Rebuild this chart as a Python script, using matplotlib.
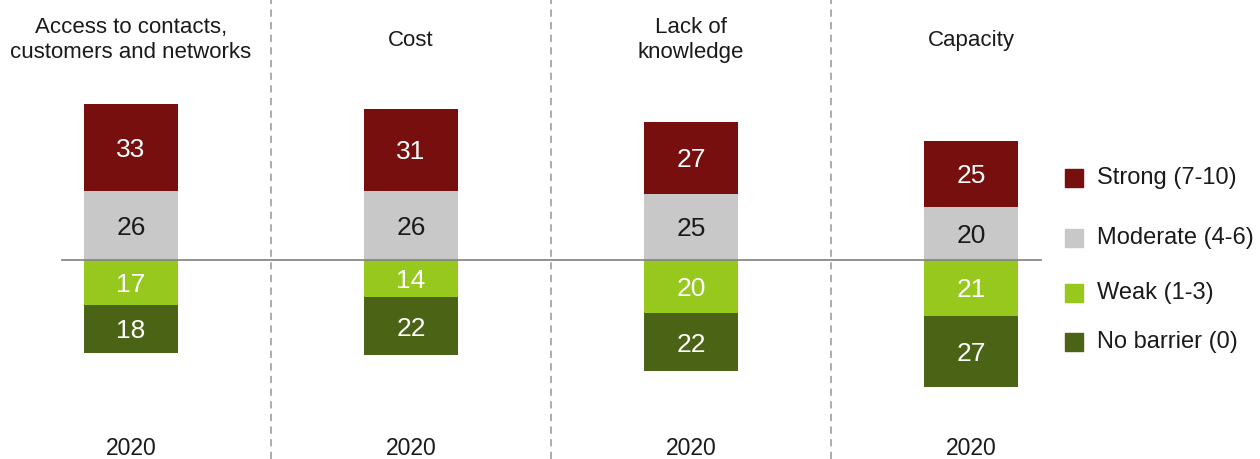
import matplotlib
matplotlib.use("Agg")
import matplotlib.pyplot as plt
from matplotlib.patches import Rectangle

plt.rcParams['font.family'] = ['Liberation Sans', 'DejaVu Sans']

categories = ["Access to contacts,\ncustomers and networks", "Cost",
              "Lack of\nknowledge", "Capacity"]
years = ["2020", "2020", "2020", "2020"]
strong = [33, 31, 27, 25]
moderate = [26, 26, 25, 20]
weak = [17, 14, 20, 21]
no_barrier = [18, 22, 22, 27]

legend_labels = ["Strong (7-10)", "Moderate (4-6)", "Weak (1-3)", "No barrier (0)"]
c_strong = "#760F0E"
c_moderate = "#C8C8C8"
c_weak = "#97C81E"
c_none = "#4A6314"

fig = plt.figure(figsize=(12.6, 4.59), dpi=100)
ax = fig.add_axes([0, 0, 1, 1])
ax.set_xlim(-0.468, 4.032)
ax.set_ylim(-75.1, 98.1)
ax.axis("off")

x = list(range(len(categories)))
w = 0.336

# positive side: moderate sits on the baseline, strong on top of it
ax.bar(x, moderate, w, bottom=0, color=c_moderate)
ax.bar(x, strong, w, bottom=moderate, color=c_strong)
# negative side: weak under the baseline, no barrier below that
ax.bar(x, [-v for v in weak], w, bottom=0, color=c_weak)
ax.bar(x, [-v for v in no_barrier], w, bottom=[-v for v in weak], color=c_none)

fs_val = 19
cap_shift = -0.716 * fs_val / 2  # centre the digit caps on the segment


def seg_label(xi, yc, val, color):
    ax.annotate(str(val), (xi, yc), xytext=(0, cap_shift),
                textcoords="offset points", ha="center", va="baseline",
                fontsize=fs_val, color=color)


for i in x:
    seg_label(i, moderate[i] / 2, moderate[i], "#1a1a1a")
    seg_label(i, moderate[i] + strong[i] / 2, strong[i], "white")
    seg_label(i, -weak[i] / 2, weak[i], "white")
    seg_label(i, -weak[i] - no_barrier[i] / 2, no_barrier[i], "white")

# baseline
ax.plot([-0.246, 3.25], [0, 0], color="#808080", lw=1.2, zorder=3)

# dashed separators between groups
for s in [0.5, 1.5, 2.5]:
    ax.axvline(s, color="#a6a6a6", lw=1.3, ls=(0, (4, 3)), zorder=0)

# group titles and year labels
for i, cat in enumerate(categories):
    ax.text(i, 83.0, cat, ha="center", va="center", fontsize=16,
            color="#1a1a1a", linespacing=1.3)
    ax.text(i, -71.0, years[i], ha="center", va="center", fontsize=16.5,
            color="#1a1a1a")

# legend
leg_y = [178, 238, 293, 342]
leg_cols = [c_strong, c_moderate, c_weak, c_none]
W, H = 1260.0, 459.0
for yy, col, lab in zip(leg_y, leg_cols, legend_labels):
    fig.add_artist(Rectangle((1065 / W, 1 - (yy + 9) / H), 18 / W, 18 / H,
                             transform=fig.transFigure, color=col))
    fig.text(1097 / W, 1 - yy / H, lab, ha="left", va="center", fontsize=17,
             color="#1a1a1a")

fig.savefig("out.png", dpi=100)
